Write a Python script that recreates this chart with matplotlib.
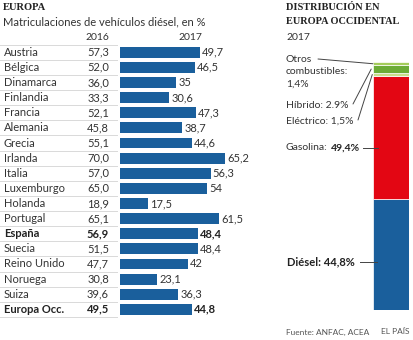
import matplotlib
matplotlib.use("Agg")
import matplotlib.pyplot as plt
from matplotlib.lines import Line2D

# ─── Data ─────────────────────────────────────────────────────────────────────
countries = ["Austria", "Bélgica", "Dinamarca", "Finlandia", "Francia", "Alemania",
             "Grecia", "Irlanda", "Italia", "Luxemburgo", "Holanda", "Portugal",
             "España", "Suecia", "Reino Unido", "Noruega", "Suiza", "Europa Occ."]
diesel_2016 = [57.3, 52.0, 36.0, 33.3, 52.1, 45.8, 55.1, 70.0, 57.0, 65.0, 18.9,
               65.1, 56.9, 51.5, 47.7, 30.8, 39.6, 49.5]
diesel_2017 = [49.7, 46.5, 35, 30.6, 47.3, 38.7, 44.6, 65.2, 56.3, 54, 17.5,
               61.5, 48.4, 48.4, 42, 23.1, 36.3, 44.8]
bold_rows = ["España", "Europa Occ."]

fuels = ["Diésel", "Gasolina", "Eléctrico", "Híbrido", "Otros combustibles"]
fuel_share = [44.8, 49.4, 1.5, 2.9, 1.4]

# ─── Style ────────────────────────────────────────────────────────────────────
W, H = 414, 340
BLUE = "#1a5f9c"
RED = "#e30613"
FUEL_COLORS = [BLUE, RED, "#c9de8c", "#6cab36", "#a4cc5a"]
TXT = "#333333"
DARK = "#222222"
SANS = "Lato"
SERIF = "Liberation Serif"

plt.rcParams["font.family"] = [SANS, "DejaVu Sans"]


def fx(px):
    return px / W


def fy(py):
    return 1 - py / H


fig = plt.figure(figsize=(W / 100, H / 100), dpi=100)
renderer = fig.canvas.get_renderer()

# ─── Headers ──────────────────────────────────────────────────────────────────
fig.text(fx(3), fy(7), "EUROPA", family=SERIF, weight="bold", size=7.6,
         color=DARK, va="center")
fig.text(fx(3), fy(22), "Matriculaciones de vehículos diésel, en %", size=8,
         color=TXT, va="center")
fig.text(fx(286), fy(7), "DISTRIBUCIÓN EN", family=SERIF, weight="bold",
         size=7.4, color=DARK, va="center")
fig.text(fx(286), fy(21), "EUROPA OCCIDENTAL", family=SERIF, weight="bold",
         size=7.4, color=DARK, va="center")
fig.text(fx(286), fy(38), "2017", size=7.5, color=TXT, va="center")

# ─── Country bars ─────────────────────────────────────────────────────────────
row0, step = 52.3, 15.12
n = len(countries)
top = row0 - step / 2
bottom = row0 + step * (n - 1) + step / 2
scale = 1.61  # px per percentage point
bx0, bw = 120, 140

ax = fig.add_axes([fx(bx0), fy(bottom), bw / W, (bottom - top) / H])
ax.set_xlim(0, bw / scale)
ax.set_ylim(n - 0.5, -0.5)
ax.axis("off")

ys = list(range(n))
ax.barh(ys, diesel_2017, height=0.72, color=BLUE)

ax.annotate("2016", xy=(fx(109), -1.0), xycoords=("figure fraction", "data"),
            ha="right", va="center", size=7.5, color=TXT, annotation_clip=False)
ax.annotate("2017", xy=(fx(190), -1.0), xycoords=("figure fraction", "data"),
            ha="center", va="center", size=7.5, color=TXT, annotation_clip=False)

for i, (name, v16, v17) in enumerate(zip(countries, diesel_2016, diesel_2017)):
    bold = name in bold_rows
    w = "bold" if bold else "normal"
    c = DARK if bold else TXT
    ax.annotate(name, xy=(fx(4), i), xycoords=("figure fraction", "data"),
                ha="left", va="center", size=8, weight=w, color=c,
                annotation_clip=False)
    ax.annotate(f"{v16:.1f}".replace(".", ","), xy=(fx(109), i),
                xycoords=("figure fraction", "data"), ha="right", va="center",
                size=8, weight=w, color=c, annotation_clip=False)
    s17 = f"{v17:g}".replace(".", ",")
    ax.annotate(s17, xy=(v17, i), xytext=(1.5, 0), textcoords="offset points",
                ha="left", va="center", size=8, weight=w, color=c,
                annotation_clip=False)

# row separators across the label column
for k in range(n + 1):
    yk = fy(top + k * step)
    fig.add_artist(Line2D([fx(0), fx(117)], [yk, yk], color="#d9d9d9", lw=0.7))

# ─── Fuel mix stacked bar ─────────────────────────────────────────────────────
sx0, sx1, sy0, sy1 = 373, 409, 62, 309.5
ax2 = fig.add_axes([fx(sx0), fy(sy1), (sx1 - sx0) / W, (sy1 - sy0) / H])
ax2.set_xlim(-0.5, 0.5)
ax2.set_ylim(0, 100)
ax2.axis("off")
base = 0
mids = {}
for name, share, col in zip(fuels, fuel_share, FUEL_COLORS):
    ax2.bar(0, share, width=1, bottom=base, color=col, edgecolor="white",
            linewidth=0.5)
    mids[name] = base + share / 2
    base += share

lead = dict(arrowstyle="-", color="#444444", lw=0.7, shrinkA=0, shrinkB=0)
fig.text(fx(286), fy(60), "Otros", size=7.5, color=TXT, va="center")
fig.text(fx(286), fy(72), "combustibles:", size=7.5, color=TXT, va="center")
fig.text(fx(286), fy(84), "1,4%", size=7.5, color=TXT, va="center")
ax2.annotate("", xy=(-0.5, mids["Otros combustibles"]),
             xytext=(fx(318), fy(59)), textcoords="figure fraction",
             arrowprops=lead)

fig.text(fx(286), fy(105), "Híbrido: 2.9%", size=7.5, color=TXT, va="center")
ax2.annotate("", xy=(-0.55, mids["Híbrido"]), xytext=(fx(353), fy(104)),
             textcoords="figure fraction", arrowprops=lead,
             annotation_clip=False)

fig.text(fx(286), fy(121), "Eléctrico: 1,5%", size=7.5, color=TXT, va="center")
ax2.annotate("", xy=(-0.52, mids["Eléctrico"]), xytext=(fx(358), fy(120)),
             textcoords="figure fraction", arrowprops=lead,
             annotation_clip=False)

# "Gasolina:" regular, value in bold right after it
gas = fig.text(fx(286), fy(148), "Gasolina:", size=7.5, color=TXT, va="center")
gx = gas.get_window_extent(renderer).x1
fig.text(fx(gx + 3), fy(148), "49,4%", size=7.5, color=DARK, weight="bold",
         va="center")
fig.add_artist(Line2D([fx(363), fx(378)], [fy(148), fy(148)], color="#444444",
                      lw=0.7))

fig.text(fx(287), fy(262), "Diésel: 44,8%", size=8, color=DARK,
         weight="bold", va="center")
fig.add_artist(Line2D([fx(360), fx(377)], [fy(262), fy(262)], color="#444444",
                      lw=0.7))

# ─── Footer ───────────────────────────────────────────────────────────────────
fig.text(fx(286), fy(332), "Fuente: ANFAC, ACEA", size=6, color="#555555",
         va="center")
fig.text(fx(410), fy(332), "EL PAÍS", size=6, color="#555555", va="center",
         ha="right")

fig.savefig("out.png", dpi=100, facecolor="white")
